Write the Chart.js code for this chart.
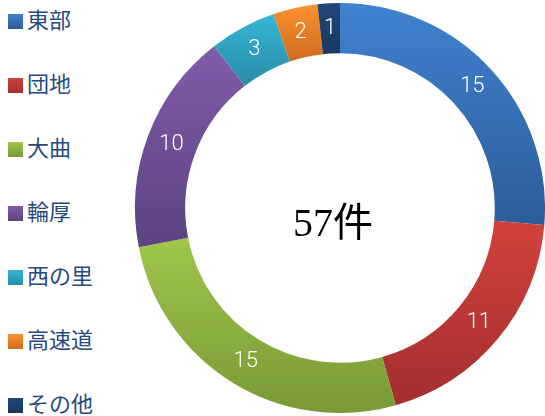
<!DOCTYPE html>
<html lang="ja">
<head>
  <meta charset="UTF-8" />
  <title>件数</title>
  <script src="https://cdn.jsdelivr.net/npm/chart.js"></script>
  <style>
    body {
      margin: 0;
      background: #fff;
    }

    .wrap {
      position: relative;
      width: 545px;
      height: 416px;
    }

    .legend {
      position: absolute;
      left: 0;
      top: 0;
      margin: 0;
      padding: 0;
      list-style: none;
      font-family: "Noto Sans CJK JP", sans-serif;
      font-size: 22px;
      color: #264a7c;
    }

    .legend li {
      position: absolute;
      left: 8px;
      white-space: nowrap;
      line-height: 26px;
    }

    .legend span {
      display: inline-block;
      width: 15px;
      height: 15px;
      margin-right: 4px;
      vertical-align: -1px;
    }

    canvas {
      position: absolute;
      left: 0;
      top: 0;
    }
  </style>
</head>
<body>
  <div class="wrap">
    <ul class="legend" id="legend"></ul>
    <canvas id="donut" width="545" height="416"></canvas>
  </div>

  <script>
    const areas = ['東部', '団地', '大曲', '輪厚', '西の里', '高速道', 'その他'];
    const counts = [15, 11, 15, 10, 3, 2, 1];
    const topColors = ['#3f82d0', '#d2413b', '#a0c64b', '#7f5ca9', '#35b6d6', '#fa9230', '#204878'];
    const bottomColors = ['#2d5c98', '#a22f2f', '#789936', '#5c4380', '#288ca6', '#d06a1e', '#1a3762'];
    const centerText = '57件';

    // legend (html)
    const legend = document.getElementById('legend');
    areas.forEach((name, i) => {
      const li = document.createElement('li');
      li.style.top = (5 + i * 64) + 'px';
      li.innerHTML = `<span style="background:linear-gradient(${topColors[i]},${bottomColors[i]})"></span>${name}`;
      legend.appendChild(li);
    });

    // vertical gradient per slice, over the slice's own bounding box
    function sliceGradient(c) {
      const chart = c.chart;
      const area = chart.chartArea;
      const i = c.dataIndex;
      if (!area) return topColors[i];
      const cx = (area.left + area.right) / 2;
      const cy = (area.top + area.bottom) / 2;
      const outer = Math.min(area.right - area.left, area.bottom - area.top) / 2;
      const inner = outer * 0.755;
      const total = counts.reduce((a, b) => a + b, 0);
      const before = counts.slice(0, i).reduce((a, b) => a + b, 0);
      const a0 = -Math.PI / 2 + before / total * Math.PI * 2;
      const a1 = a0 + counts[i] / total * Math.PI * 2;
      let minY = Infinity, maxY = -Infinity;
      for (let k = 0; k <= 60; k++) {
        const a = a0 + (a1 - a0) * k / 60;
        [inner, outer].forEach(r => {
          const y = cy + r * Math.sin(a);
          minY = Math.min(minY, y);
          maxY = Math.max(maxY, y);
        });
      }
      const g = chart.ctx.createLinearGradient(0, minY, 0, maxY);
      g.addColorStop(0, topColors[i]);
      g.addColorStop(1, bottomColors[i]);
      return g;
    }

    const labelsPlugin = {
      id: 'sliceLabels',
      afterDatasetsDraw(chart) {
        const ctx = chart.ctx;
        const meta = chart.getDatasetMeta(0);
        ctx.save();
        ctx.fillStyle = '#fff';
        ctx.font = '300 22px Roboto, sans-serif';
        ctx.textAlign = 'center';
        ctx.textBaseline = 'middle';
        meta.data.forEach((arc, i) => {
          const p = arc.tooltipPosition();
          ctx.fillText(String(counts[i]), p.x, p.y);
        });
        // center total
        const area = chart.chartArea;
        ctx.fillStyle = '#000';
        ctx.font = '40px "Liberation Serif", "Noto Sans CJK JP", serif';
        ctx.textBaseline = 'alphabetic';
        ctx.fillText(centerText, (area.left + area.right) / 2 - 7, 236);
        ctx.restore();
      }
    };

    new Chart(document.getElementById('donut'), {
      type: 'doughnut',
      data: {
        labels: areas,
        datasets: [{
          data: counts,
          backgroundColor: sliceGradient,
          borderWidth: 0
        }]
      },
      options: {
        responsive: false,
        animation: false,
        cutout: '75.5%',
        layout: { padding: { left: 135, right: 0, top: 3, bottom: 3 } },
        plugins: {
          legend: { display: false },
          tooltip: { enabled: false }
        }
      },
      plugins: [labelsPlugin]
    });
  </script>
</body>
</html>
